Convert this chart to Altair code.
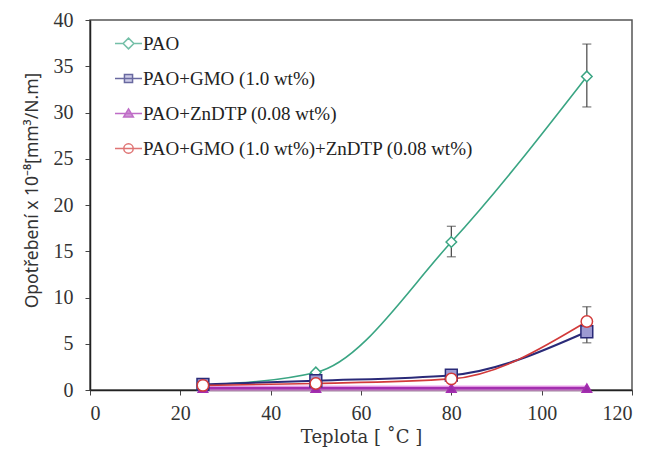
import altair as alt
import pandas as pd

series_names = ["PAO", "PAO+GMO (1.0 wt%)", "PAO+ZnDTP (0.08 wt%)", "PAO+GMO (1.0 wt%)+ZnDTP (0.08 wt%)"]
temps = [25, 50, 80, 110]
pao = [0.5, 1.9, 16.0, 33.9]
gmo = [0.6, 1.0, 1.6, 6.3]
zndtp = [0.2, 0.2, 0.2, 0.2]
gmo_zn = [0.5, 0.7, 1.2, 7.4]

err_series = ["PAO", "PAO", "PAO+GMO (1.0 wt%)+ZnDTP (0.08 wt%)"]
err_x = [80, 110, 110]
err_lo = [14.4, 30.6, 5.1]
err_hi = [17.7, 37.4, 9.0]

line_colors = ["#3aa583", "#2a2a78", "#a42fb0", "#d23a3a"]
fill_colors = ["#ffffff", "#9d9ad2", "#9a2aa8", "#ffffff"]
line_widths = [1.6, 2.0, 2.6, 1.6]
point_shapes = ["diamond", "square", "triangle-up", "circle"]
point_sizes = [110, 140, 90, 130]
legend_paths = [
    "M-1,0H-0.4M0.4,0H1M0,-0.4L0.4,0L0,0.4L-0.4,0Z",
    "M-1,0H1M-0.3,-0.3H0.3V0.3H-0.3Z",
    "M-1,0H1M0,-0.34L0.36,0.26H-0.36Z",
    "M-1,0H1M-0.35,0A0.35,0.35 0 1,0 0.35,0A0.35,0.35 0 1,0 -0.35,0Z",
]

rows = []
for name, vals in zip(series_names, [pao, gmo, zndtp, gmo_zn]):
    for t, v in zip(temps, vals):
        rows.append({"series": name, "t": t, "w": v})
df = pd.DataFrame(rows)
err = pd.DataFrame({"series": err_series, "t": err_x, "lo": err_lo, "hi": err_hi})

ytitle = "Opotřebení x 10⁻⁸[mm³/N.m]"
xaxis = alt.Axis(values=[0, 20, 40, 60, 80, 100, 120], title="Teplota [ ˚C ]")
yaxis = alt.Axis(values=[0, 5, 10, 15, 20, 25, 30, 35, 40], title=ytitle, titleY=170)
xenc = alt.X("t:Q", scale=alt.Scale(domain=[0, 120]), axis=xaxis)
yenc = alt.Y("w:Q", scale=alt.Scale(domain=[0, 40]), axis=yaxis)

base = alt.Chart(df)

glow = base.transform_filter(alt.datum.series == series_names[2]).mark_line(
    color="#f2a6f0", strokeWidth=6, opacity=0.7, interpolate="monotone"
).encode(x=xenc, y=yenc)

line_layers = []
for i, name in enumerate(series_names):
    line_layers.append(
        base.transform_filter(alt.datum.series == name).mark_line(
            color=line_colors[i], strokeWidth=line_widths[i], interpolate="monotone"
        ).encode(x=xenc, y=yenc)
    )

errbars = alt.Chart(err).mark_errorbar(ticks=alt.MarkConfig(size=9, color="#444"), color="#444", thickness=1.2).encode(
    x=alt.X("t:Q", scale=alt.Scale(domain=[0, 120]), axis=xaxis),
    y=alt.Y("lo:Q", scale=alt.Scale(domain=[0, 40]), axis=yaxis, title=ytitle),
    y2="hi:Q",
)

point_layers = []
for i, name in enumerate(series_names):
    point_layers.append(
        base.transform_filter(alt.datum.series == name).mark_point(
            shape=point_shapes[i], filled=True, fill=fill_colors[i], stroke=line_colors[i],
            strokeWidth=1.5, size=point_sizes[i], opacity=1
        ).encode(x=xenc, y=yenc)
    )

leg = alt.Legend(
    title=None, orient="none", legendX=24, legendY=9, padding=0,
    symbolSize=729, symbolStrokeWidth=1.5,
    labelFont="Liberation Serif", labelFontSize=19, labelColor="#222",
    labelOffset=0, rowPadding=10, labelLimit=500,
)
legend_layer = base.transform_filter(alt.datum.t < 0).mark_point(filled=True, strokeWidth=1.5).encode(
    x=xenc, y=yenc,
    shape=alt.Shape("series:N", scale=alt.Scale(domain=series_names, range=legend_paths), legend=leg),
    stroke=alt.Stroke("series:N", scale=alt.Scale(domain=series_names, range=line_colors), legend=leg),
    fill=alt.Fill("series:N", scale=alt.Scale(domain=series_names, range=fill_colors), legend=leg),
)

chart = alt.layer(glow, *line_layers, errbars, *point_layers, legend_layer).properties(
    width=542, height=370,
    autosize=alt.AutoSizeParams(type="none"),
    padding={"left": 90, "top": 20, "right": 20, "bottom": 66},
).configure_view(
    stroke="#555", strokeWidth=1.5
).configure_axis(
    grid=False, domainColor="#222", domainWidth=1.5, tickColor="#444", tickSize=5,
    labelFont="Liberation Serif", labelFontSize=20, labelColor="#333",
    titleColor="#333", titleFontWeight="normal",
).configure_axisX(
    labelPadding=8, titleFont="DejaVu Serif", titleFontSize=18, titlePadding=5,
).configure_axisY(
    labelPadding=12, titleFont="Noto Sans", titleFontSize=17.5, titlePadding=12,
)

chart.save("out.html", embed_options={"renderer": "svg", "actions": False})
